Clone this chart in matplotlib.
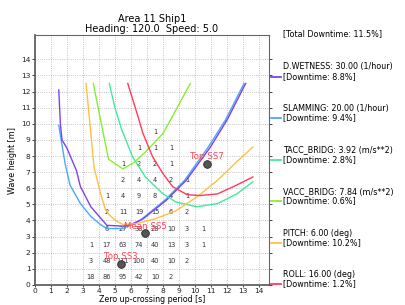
import matplotlib
matplotlib.use("Agg")
import matplotlib.pyplot as plt
from matplotlib.lines import Line2D

# scatter diagram (cell centres: Tz, Hs, occurrence)
cell_tz = [7.5,
           6.5, 7.5, 8.5,
           5.5, 6.5, 7.5, 8.5,
           5.5, 6.5, 7.5, 8.5, 9.5,
           4.5, 5.5, 6.5, 7.5, 8.5, 9.5,
           4.5, 5.5, 6.5, 7.5, 8.5, 9.5,
           4.5, 5.5, 6.5, 7.5, 8.5, 9.5, 10.5,
           3.5, 4.5, 5.5, 6.5, 7.5, 8.5, 9.5, 10.5,
           3.5, 4.5, 5.5, 6.5, 7.5, 8.5, 9.5,
           3.5, 4.5, 5.5, 6.5, 7.5, 8.5]
cell_hs = [9.5,
           8.5, 8.5, 8.5,
           7.5, 7.5, 7.5, 7.5,
           6.5, 6.5, 6.5, 6.5, 6.5,
           5.5, 5.5, 5.5, 5.5, 5.5, 5.5,
           4.5, 4.5, 4.5, 4.5, 4.5, 4.5,
           3.5, 3.5, 3.5, 3.5, 3.5, 3.5, 3.5,
           2.5, 2.5, 2.5, 2.5, 2.5, 2.5, 2.5, 2.5,
           1.5, 1.5, 1.5, 1.5, 1.5, 1.5, 1.5,
           0.5, 0.5, 0.5, 0.5, 0.5, 0.5]
cell_count = [1,
              1, 1, 1,
              1, 2, 2, 1,
              2, 4, 4, 2, 1,
              1, 4, 9, 8, 4, 1,
              2, 11, 19, 15, 6, 2,
              6, 27, 38, 28, 10, 3, 1,
              1, 17, 63, 74, 40, 13, 3, 1,
              3, 48, 111, 100, 40, 10, 2,
              18, 86, 95, 42, 10, 2]

# limiting wave height curves
wet_tz = [1.5, 1.6, 1.7, 2.0, 2.6, 2.85, 3.5, 4.5, 5.5, 6.0, 6.75, 8.2, 9.45, 10.95, 12.0, 13.15]
wet_hs = [12.1, 10.0, 9.0, 8.5, 7.1, 6.1, 4.85, 3.7, 3.65, 3.75, 4.1, 5.25, 6.5, 8.55, 10.25, 12.5]
slam_tz = [1.5, 1.9, 2.2, 2.85, 3.5, 4.1, 4.5, 5.5, 6.5, 8.1, 9.35, 10.85, 11.9, 13.05]
slam_hs = [9.9, 7.5, 6.2, 5.05, 4.25, 3.75, 3.5, 3.5, 3.95, 5.25, 6.5, 8.6, 10.25, 12.5]
tacc_tz = [4.65, 5.0, 5.4, 6.1, 6.9, 8.0, 8.8, 10.1, 11.4, 12.6, 13.6]
tacc_hs = [12.5, 11.0, 9.7, 7.95, 6.7, 5.65, 5.15, 4.85, 5.05, 5.65, 6.4]
vacc_tz = [3.65, 4.6, 5.5, 6.2, 6.9, 8.0, 8.8, 9.7]
vacc_hs = [12.5, 7.8, 7.2, 7.6, 8.25, 9.4, 10.85, 12.5]
pitch_tz = [3.2, 3.45, 3.7, 4.1, 4.4, 4.6, 5.1, 5.5, 6.3, 7.5, 8.8, 10.1, 11.4, 12.6, 13.6]
pitch_hs = [12.5, 9.9, 7.3, 5.7, 4.7, 4.4, 3.95, 3.75, 3.8, 4.1, 4.6, 5.45, 6.5, 7.65, 8.55]
roll_tz = [5.8, 6.3, 6.75, 7.35, 8.0, 8.6, 9.5, 10.3, 11.4, 12.6, 13.6]
roll_hs = [12.5, 10.9, 9.4, 7.95, 6.9, 6.1, 5.6, 5.55, 5.65, 6.2, 6.7]

criteria_names = ["D.WETNESS: 30.00 (1/hour)", "SLAMMING: 20.00 (1/hour)", "TACC_BRIDG: 3.92 (m/s**2)",
                  "VACC_BRIDG: 7.84 (m/s**2)", "PITCH: 6.00 (deg)", "ROLL: 16.00 (deg)"]
criteria_downtime = [8.8, 9.4, 2.8, 0.6, 10.2, 1.2]
criteria_colors = ["#8040f0", "#4aa8f8", "#40eaa0", "#88ee30", "#ffc040", "#ff3a5a"]
total_downtime = 11.5

# sea state markers
ss_labels = ["Top SS7", "Mean SS5", "Top SS3"]
ss_tz = [10.75, 6.9, 5.4]
ss_hs = [7.5, 3.2, 1.3]

fig = plt.figure(figsize=(4.05, 3.05), dpi=100)
ax = fig.add_axes([0.0857, 0.0656, 0.5783, 0.8194])

curves = [(wet_tz, wet_hs), (slam_tz, slam_hs), (tacc_tz, tacc_hs),
          (vacc_tz, vacc_hs), (pitch_tz, pitch_hs), (roll_tz, roll_hs)]
# slamming underneath wetness, as in the original
for i in [1, 0, 2, 3, 4, 5]:
    tz, hs = curves[i]
    ax.plot(tz, hs, color=criteria_colors[i], lw=1.0, zorder=3)

for tz, hs, n in zip(cell_tz, cell_hs, cell_count):
    ax.text(tz, hs, str(n), ha="center", va="center", fontsize=4.8, color="#333333", zorder=2)

ax.plot(ss_tz, ss_hs, "o", ms=5.5, mfc="#555555", mec="#222222", mew=0.6, zorder=5)
for lab, tz, hs in zip(ss_labels, ss_tz, ss_hs):
    ax.text(tz, hs + 0.45, lab, ha="center", va="center", fontsize=6.2, color="#ff4455", zorder=6)

ax.set_xlim(0, 14.6)
ax.set_ylim(0, 15.5)
ax.set_xticks(range(0, 15))
ax.set_yticks(range(0, 15))
ax.grid(True, ls=":", color="#b0b0b0", lw=0.6)
ax.set_axisbelow(True)
ax.tick_params(labelsize=5.4, length=2, width=0.6, colors="#222222", pad=1, right=True)
ax.tick_params(axis="x", length=1.5, pad=0.5)
for side in ["left", "bottom"]:
    ax.spines[side].set_color("#555555")
    ax.spines[side].set_linewidth(1.2)
for side in ["top", "right"]:
    ax.spines[side].set_color("#666666")
    ax.spines[side].set_linewidth(0.8)
ax.set_xlabel("Zero up-crossing period [s]", fontsize=5.7, va="center")
ax.xaxis.set_label_coords(0.5, -14.8 / 250)
ax.set_ylabel("Wave height [m]", fontsize=5.8, labelpad=3)
ax.set_title("Area 11 Ship1\nHeading: 120.0  Speed: 5.0", fontsize=7.0, pad=2, linespacing=1.05)

# right hand side legend
W, H = 405.0, 305.0
fig.text(283 / W, 1 - 34 / H, f"[Total Downtime: {total_downtime}%]", fontsize=5.8, va="center")
for i, (name, dt) in enumerate(zip(criteria_names, criteria_downtime)):
    y = 76.5 + i * 41.5
    fig.text(283 / W, 1 - (y - 9.5) / H, name, fontsize=5.8, va="center")
    fig.text(283 / W, 1 - y / H, f"[Downtime: {dt}%]", fontsize=5.8, va="center")
    fig.add_artist(Line2D([271 / W, 281 / W], [1 - y / H, 1 - y / H], color=criteria_colors[i], lw=1.3))

fig.savefig("out.png", dpi=100)
